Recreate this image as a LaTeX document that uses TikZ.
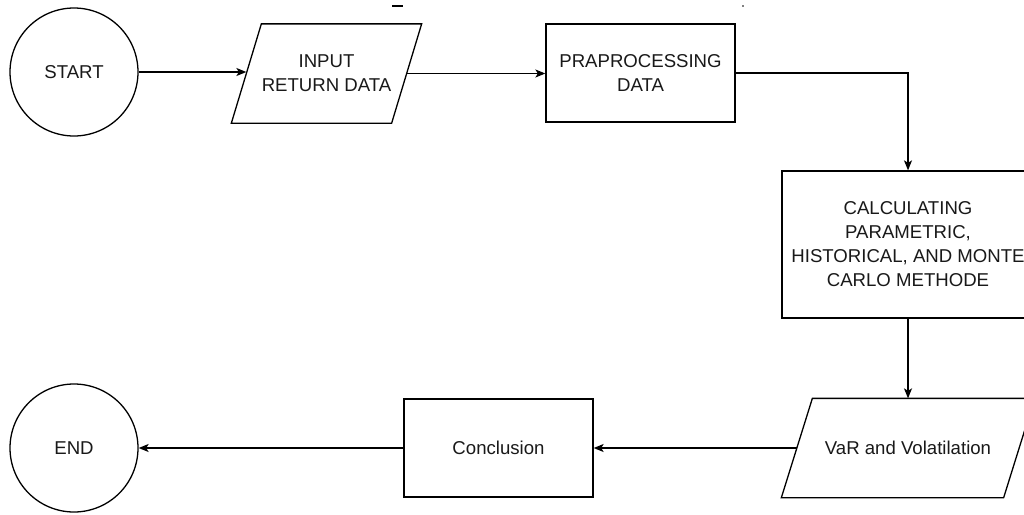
\documentclass[tikz,border=0pt]{standalone}
\usepackage{fontspec}
\setmainfont{Liberation Sans}
\usetikzlibrary{arrows.meta,calc}
\begin{document}
\begin{tikzpicture}[x=1pt,y=-1pt,
  line width=1.3pt,
  every node/.style={font=\fontsize{18.6}{24}\selectfont, text=black!90, align=center, inner sep=0pt},
  term/.style={draw, circle, minimum size=128pt},
  procbox/.style={draw, rectangle, minimum width=189pt, minimum height=98pt},
  iobox/.style={rectangle, minimum height=98pt},
  flow/.style={-{Stealth[length=10pt,width=8pt,inset=2.5pt]}}
]
\useasboundingbox (0,0) rectangle (1024,514);
\fill[white] (0,0) rectangle (1024,514);

\node[term] (start) at (74,72) {START};
\node[iobox, minimum width=159pt] (inp) at (326.5,73.5) {INPUT\\RETURN DATA};
\draw ($(inp.south west)+(-15,0)$) -- ($(inp.north west)+(15,0)$) -- ($(inp.north east)+(15,0)$) -- ($(inp.south east)+(-15,0)$) -- cycle;
\node[procbox] (pre) at (640.5,73) {PRAPROCESSING\\DATA};
\node[draw, rectangle, minimum width=252pt, minimum height=147pt] (calc) at (908,244.5) {CALCULATING\\PARAMETRIC,\\HISTORICAL, AND MONTE\\CARLO METHODE};
\node[iobox, minimum width=221pt] (var) at (908,448) {VaR and Volatilation};
\draw ($(var.south west)+(-15.5,0)$) -- ($(var.north west)+(15.5,0)$) -- ($(var.north east)+(15.5,0)$) -- ($(var.south east)+(-15.5,0)$) -- cycle;
\node[procbox] (concl) at (498.5,448) {Conclusion};
\node[term] (end) at (74,448) {END};

\draw[flow] (start.east) -- (start.east -| inp.west);
\draw[flow] (inp.east) -- (inp.east -| pre.west);
\draw[flow] (pre.east) -| (calc.north);
\draw[flow] (calc.south) -- (var.north);
\draw[flow] (var.west) -- (concl.east);
\draw[flow] (concl.west) -- (end.east);

\coordinate (m1) at (392,6);
\coordinate (m2) at (403,6);
\draw[line width=1.5pt] (m1) -- (m2);
\coordinate (d1) at (743,6);
\fill (d1) circle (0.8pt);
\end{tikzpicture}
\end{document}
